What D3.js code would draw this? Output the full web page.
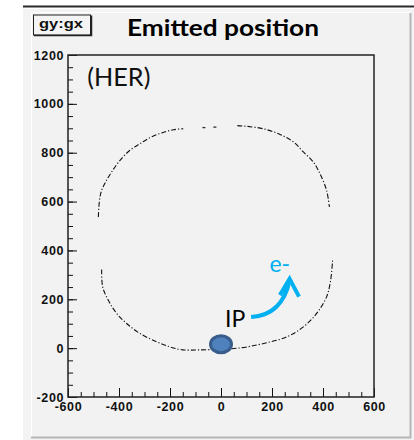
<!DOCTYPE html>
<html>
<head>
<meta charset="utf-8">
<script src="https://cdn.jsdelivr.net/npm/d3@7"></script>
<style>
  html, body { margin: 0; padding: 0; background: #ffffff; }
  svg { display: block; }
</style>
</head>
<body>
<div id="chart"></div>
<script>
// Emitted position of beam particles (gy vs gx), HER ring
const xRange = [-600, 600];
const yRange = [-200, 1200];
const xMajorTicks = [-600, -400, -200, 0, 200, 400, 600];
const yMajorTicks = [-200, 0, 200, 400, 600, 800, 1000, 1200];
const minorStep = 50;

// upper arc, left part [gx, gy]
const upperLeft = [
  [-481, 537], [-477, 600], [-470, 640], [-455, 675], [-429, 721], [-396, 769],
  [-357, 810], [-318, 837], [-278, 862], [-233, 881], [-187, 894], [-148, 898]
];
// isolated points near the top
const upperDots = [[-67, 903], [-24, 905]];
// upper arc, right part
const upperRight = [
  [64, 911], [101, 908], [166, 898], [231, 875], [284, 844], [323, 803],
  [362, 762], [388, 714], [414, 646], [425, 578]
];
// lower arc, through the interaction point
const lowerArc = [
  [-468, 322], [-464, 251], [-442, 196], [-409, 142], [-370, 101], [-318, 60],
  [-252, 26], [-200, 5], [-150, -7], [-82, -7], [-20, -5], [35, -3],
  [101, 5], [179, 22], [258, 46], [323, 87], [375, 142], [414, 210],
  [430, 278], [438, 367]
];

const ipPoint = [0, 16];
const ipLabel = "IP";
const ipLabelPos = [16, 86];
const beamLabel = "e-";
const beamLabelPos = [190, 311];
// direction arrow: start, control, tip, wings
const arrowStart = [118, 127];
const arrowControl = [239, 135];
const arrowTip = [269, 284];
const arrowWings = [[231, 217], [306, 211]];

const titleText = "Emitted position";
const statText = "gy:gx";
const ringLabel = "(HER)";
const ringLabelPos = [-524, 1072];

const W = 414, H = 440;
const svg = d3.select("#chart").append("svg").attr("width", W).attr("height", H);

// canvas decoration
svg.append("line").attr("x1", 23).attr("x2", W).attr("y1", 6.5).attr("y2", 6.5)
  .attr("stroke", "#2a2a2a").attr("stroke-width", 2);
svg.append("rect").attr("x", 23).attr("y", 9).attr("width", W - 23).attr("height", H - 9)
  .attr("fill", "#f3f3f3");
svg.append("rect").attr("x", 31).attr("y", 12).attr("width", 379).attr("height", 426)
  .attr("fill", "#f2f2f2");
svg.append("path").attr("d", "M31.5,438V12.5H410").attr("fill", "none")
  .attr("stroke", "#ffffff").attr("stroke-width", 1);
svg.append("path").attr("d", "M31,437.5H410.5V13").attr("fill", "none")
  .attr("stroke", "#b5b5b5").attr("stroke-width", 2);

const margin = { left: 68, right: 374, top: 55, bottom: 397 };
const x = d3.scaleLinear().domain(xRange).range([margin.left, margin.right]);
const y = d3.scaleLinear().domain(yRange).range([margin.bottom, margin.top]);

const tickFont = "'Liberation Sans', Arial, sans-serif";
const fmt = d => String(d);

// minor ticks
const xMinor = d3.range(xRange[0], xRange[1] + 1, minorStep);
const yMinor = d3.range(yRange[0], yRange[1] + 1, minorStep);

svg.append("g").attr("transform", `translate(0,${margin.bottom})`)
  .call(d3.axisBottom(x).tickValues(xMinor).tickSize(-5).tickFormat(""))
  .call(g => g.select(".domain").remove())
  .call(g => g.selectAll("line").attr("stroke", "#111"));
svg.append("g").attr("transform", `translate(${margin.left},0)`)
  .call(d3.axisLeft(y).tickValues(yMinor).tickSize(-5).tickFormat(""))
  .call(g => g.select(".domain").remove())
  .call(g => g.selectAll("line").attr("stroke", "#111"));

// major ticks with labels
svg.append("g").attr("transform", `translate(0,${margin.bottom})`)
  .call(d3.axisBottom(x).tickValues(xMajorTicks).tickSize(-9).tickPadding(5).tickFormat(fmt))
  .call(g => g.select(".domain").remove())
  .call(g => g.selectAll("line").attr("stroke", "#111"))
  .call(g => g.selectAll("text").attr("font-family", tickFont).attr("font-weight", "bold")
    .attr("font-size", 12.5).attr("fill", "#111").attr("letter-spacing", "0.6px"));
svg.append("g").attr("transform", `translate(${margin.left},0)`)
  .call(d3.axisLeft(y).tickValues(yMajorTicks).tickSize(-9).tickPadding(4).tickFormat(fmt))
  .call(g => g.select(".domain").remove())
  .call(g => g.selectAll("line").attr("stroke", "#111"))
  .call(g => g.selectAll("text").attr("font-family", tickFont).attr("font-weight", "bold")
    .attr("font-size", 12.5).attr("fill", "#111").attr("letter-spacing", "0.6px"));

// frame
svg.append("rect").attr("x", margin.left).attr("y", margin.top)
  .attr("width", margin.right - margin.left).attr("height", margin.bottom - margin.top)
  .attr("fill", "none").attr("stroke", "#222").attr("stroke-width", 1.5);

// emitted positions
const line = d3.line().x(d => x(d[0])).y(d => y(d[1])).curve(d3.curveCatmullRom);
[upperLeft, upperRight, lowerArc].forEach(seg => {
  svg.append("path").attr("d", line(seg)).attr("fill", "none")
    .attr("stroke", "#111").attr("stroke-width", 1.1)
    .attr("stroke-dasharray", "5,2,1.2,2");
});
svg.selectAll(".dot").data(upperDots).join("rect").attr("class", "dot")
  .attr("x", d => x(d[0]) - 1.5).attr("y", d => y(d[1]) - 0.6)
  .attr("width", 3).attr("height", 1.3).attr("fill", "#333");

// interaction point
svg.append("ellipse").attr("cx", x(ipPoint[0])).attr("cy", y(ipPoint[1]))
  .attr("rx", 10.5).attr("ry", 8.5).attr("fill", "#4f81bd")
  .attr("stroke", "#385d8a").attr("stroke-width", 3);

// beam direction arrow
const ap = d3.path();
ap.moveTo(x(arrowStart[0]), y(arrowStart[1]));
ap.quadraticCurveTo(x(arrowControl[0]), y(arrowControl[1]), x(arrowTip[0]), y(arrowTip[1]) + 2);
svg.append("path").attr("d", ap.toString()).attr("fill", "none")
  .attr("stroke", "#00b0f0").attr("stroke-width", 4);
svg.append("path")
  .attr("d", d3.line().x(d => x(d[0])).y(d => y(d[1]))([arrowWings[0], arrowTip, arrowWings[1]]))
  .attr("fill", "none").attr("stroke", "#00b0f0").attr("stroke-width", 4)
  .attr("stroke-linejoin", "miter");

const labelFont = "Lato, 'Open Sans', sans-serif";
svg.append("text").attr("x", x(ipLabelPos[0])).attr("y", y(ipLabelPos[1]))
  .attr("font-family", labelFont).attr("font-size", 23).attr("fill", "#000")
  .text(ipLabel);
svg.append("text").attr("x", x(beamLabelPos[0])).attr("y", y(beamLabelPos[1]))
  .attr("font-family", labelFont).attr("font-size", 23).attr("fill", "#00b0f0")
  .text(beamLabel);
svg.append("text").attr("x", x(ringLabelPos[0])).attr("y", y(ringLabelPos[1]))
  .attr("font-family", labelFont).attr("font-size", 24.5).attr("fill", "#111")
  .attr("textLength", 63).attr("lengthAdjust", "spacingAndGlyphs")
  .text(ringLabel);

// title
svg.append("text").attr("x", 127).attr("y", 35.7)
  .attr("font-family", labelFont).attr("font-weight", "bold").attr("font-size", 23)
  .attr("fill", "#000").attr("textLength", 192).attr("lengthAdjust", "spacingAndGlyphs")
  .text(titleText);

// stats box
svg.append("rect").attr("x", 33.5).attr("y", 15).attr("width", 57).attr("height", 20)
  .attr("fill", "#f4f4f4").attr("stroke", "#222").attr("stroke-width", 1);
svg.append("path").attr("d", "M34,35.5H91.5V15.5").attr("fill", "none")
  .attr("stroke", "#222").attr("stroke-width", 1.5);
svg.append("text").attr("x", 39).attr("y", 27.5)
  .attr("font-family", tickFont).attr("font-weight", "bold").attr("font-size", 13)
  .attr("fill", "#111").attr("textLength", 44).attr("lengthAdjust", "spacingAndGlyphs")
  .text(statText);
</script>
</body>
</html>
